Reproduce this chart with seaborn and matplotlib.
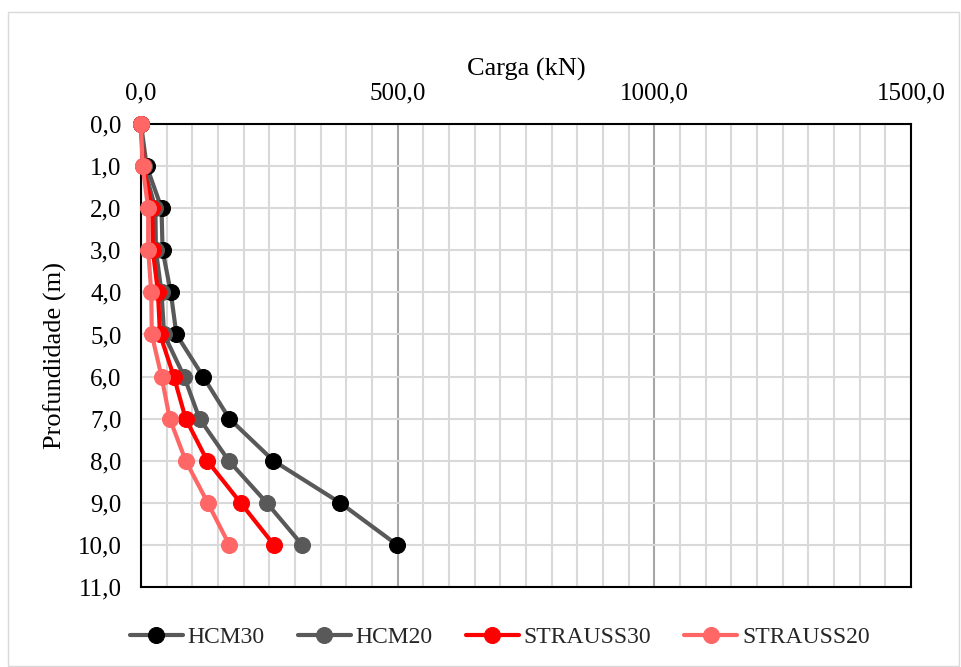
import matplotlib
matplotlib.use("Agg")
import matplotlib.pyplot as plt
import seaborn as sns
import pandas as pd
import numpy as np
from matplotlib.patches import Rectangle
from matplotlib.ticker import MultipleLocator, FuncFormatter

profundidade = [0, 1, 2, 3, 4, 5, 6, 7, 8, 9, 10]
hcm30 = [0, 11, 40, 42, 58, 69, 121, 172, 258, 388, 499]
hcm20 = [0, 5, 28, 29, 40, 45, 84, 114, 171, 245, 314]
strauss30 = [0, 4, 22, 23, 33, 37, 64, 87, 129, 194, 259]
strauss20 = [0, 3, 14, 14, 20, 21, 40, 56, 87, 130, 172]
series_names = ["HCM30", "HCM20", "STRAUSS30", "STRAUSS20"]
x_ticks = [0, 500, 1000, 1500]
y_ticks = list(range(0, 12))

sns.set_theme(style="white")
plt.rcParams['font.family'] = ['Liberation Serif', 'DejaVu Serif']

fig = plt.figure(figsize=(9.61, 6.67), dpi=100)
ax = fig.add_axes([141/961, 1-587/667, (911-141)/961, (587-124)/667])

styles = {
    "HCM30": dict(line="#595959", face="#000000"),
    "HCM20": dict(line="#595959", face="#595959"),
    "STRAUSS30": dict(line="#FF0000", face="#FF0000"),
    "STRAUSS20": dict(line="#FF6666", face="#FF6666"),
}
values = [hcm30, hcm20, strauss30, strauss20]
for name, vals in zip(series_names, values):
    df = pd.DataFrame({"carga": vals, "prof": profundidade})
    st = styles[name]
    sns.lineplot(data=df, x="carga", y="prof", sort=False, estimator=None, ax=ax,
                 color=st["line"], marker="o", markersize=11.5,
                 markerfacecolor=st["face"], markeredgecolor=st["face"],
                 linewidth=3, label=name, clip_on=False, zorder=5, legend=False)

ax.set_xlim(0, 1500)
ax.set_ylim(11, 0)
ax.xaxis.tick_top()
ax.xaxis.set_label_position("top")
ax.set_xticks(x_ticks)
ax.xaxis.set_minor_locator(MultipleLocator(50))
ax.set_yticks(y_ticks)
fmt = FuncFormatter(lambda v, p: f"{v:.1f}".replace(".", ","))
ax.xaxis.set_major_formatter(fmt)
ax.yaxis.set_major_formatter(fmt)
ax.tick_params(axis="both", which="both", length=0, labelsize=18, colors="black")
ax.tick_params(axis="x", pad=14)
ax.tick_params(axis="y", pad=14)

ax.grid(which="minor", axis="x", color="#d9d9d9", linewidth=1.5)
ax.grid(which="major", axis="x", color="#a6a6a6", linewidth=1.5)
ax.grid(which="major", axis="y", color="#d9d9d9", linewidth=1.5)
ax.set_axisbelow(True)
for s in ax.spines.values():
    s.set_color("black")
    s.set_linewidth(1.5)
    s.set_visible(True)

ax.set_xlabel("Carga (kN)", fontsize=19, labelpad=5, color="black")
ax.set_ylabel("Profundidade (m)", fontsize=19, labelpad=8, color="black")

handles = ax.get_lines()[:4]
fig.legend(handles=handles, labels=series_names, loc="center", bbox_to_anchor=(0.52, 1-637/667),
           ncol=4, frameon=False, fontsize=17, handlelength=2.25, columnspacing=1.4, handletextpad=0.2)

fig.add_artist(Rectangle((8/961, 1-666/667), 951/961, 654/667, transform=fig.transFigure,
                         fill=False, edgecolor="#d9d9d9", linewidth=1))

fig.savefig("out.png", dpi=100)
